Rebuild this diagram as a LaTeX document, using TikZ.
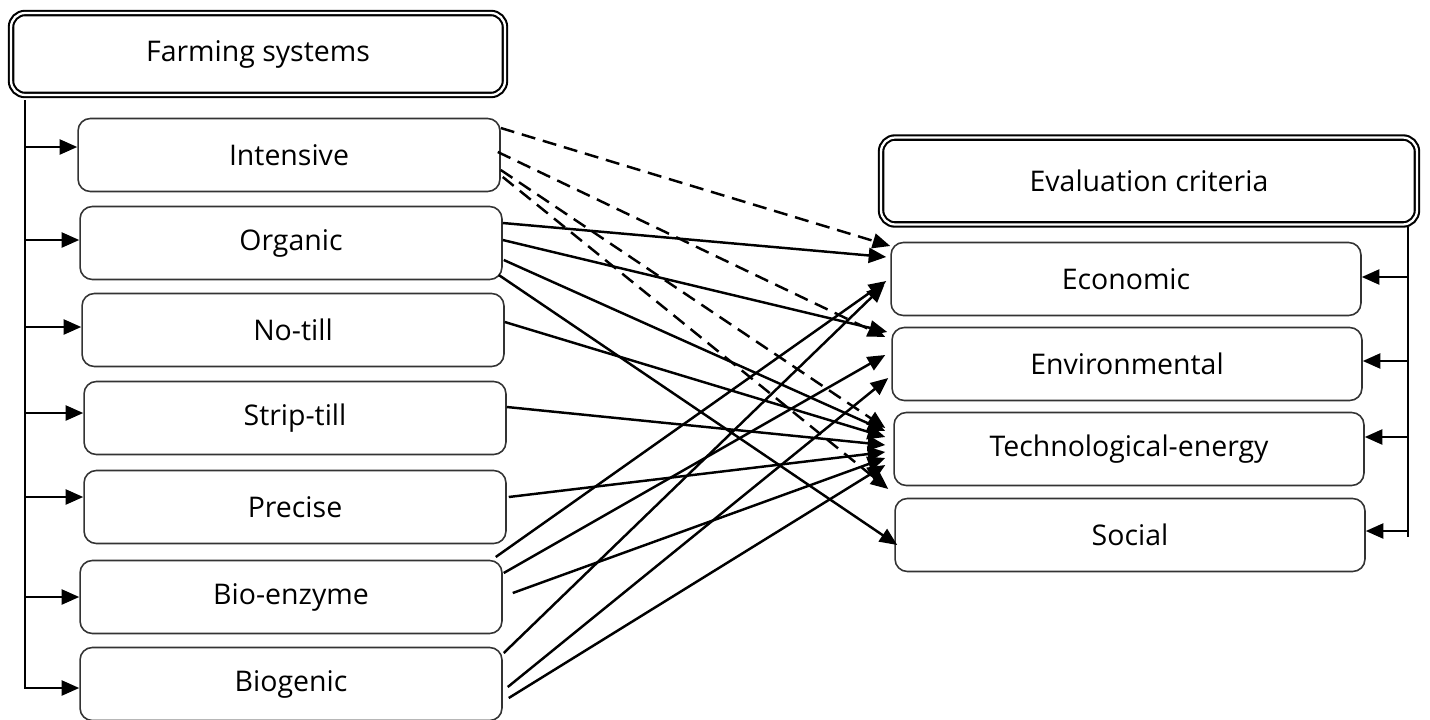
\documentclass[tikz,border=0pt]{standalone}
\usepackage{fontspec}
\setmainfont{Open Sans}
\usetikzlibrary{arrows.meta}
\usetikzlibrary{calc}

\tikzset{
  headbox/.style={draw=black, line width=1.2pt, double, double distance=1.3pt, rounded corners=8pt, font=\fontsize{16.2}{19}\selectfont},
  sysbox/.style={draw=black!80, line width=0.9pt, rounded corners=7pt, minimum width=8.44cm, minimum height=1.46cm, font=\fontsize{16.2}{19}\selectfont},
  critbox/.style={sysbox, minimum width=9.4cm},
  spine/.style={line width=0.8pt},
  feed/.style={line width=1.4pt, -{Triangle[length=10pt,width=8.5pt]}},
  link/.style={line width=1.4pt, -{Triangle[length=10pt,width=8.5pt]}},
  dashlink/.style={link, dash pattern=on 8pt off 4.5pt}
}

\begin{document}
\begin{tikzpicture}[x=0.02cm, y=-0.02cm]
    \useasboundingbox (0,0) rectangle (1430,720);

    % Cabeceras
    \node[headbox, minimum width=9.88cm, minimum height=1.64cm] (farm) at (258,54) {Farming systems};
    \node[headbox, minimum width=10.72cm, minimum height=1.74cm] (eval) at (1149,181) {Evaluation criteria};

    % Sistemas
    \node[sysbox] (int) at (289,155) {Intensive};
    \node[sysbox] (org) at (291,243) {Organic};
    \node[sysbox] (not) at (293,330) {No-till};
    \node[sysbox] (str) at (295,418) {Strip-till};
    \node[sysbox] (pre) at (295,507) {Precise};
    \node[sysbox] (bie) at (291,597) {Bio-enzyme};
    \node[sysbox] (bio) at (291,684) {Biogenic};

    % Criterios
    \node[critbox] (eco) at (1126,279) {Economic};
    \node[critbox] (env) at (1127,364) {Environmental};
    \node[critbox] (tec) at (1129,449) {Technological-energy};
    \node[critbox] (soc) at (1130,535) {Social};

    % Eje izquierdo
    \coordinate (lspine) at (25,100);
    \draw[spine] (lspine) |- ($(bio.west)+(-50,4)$);
    \draw[feed] ($(lspine |- bio.west)+(0,4)$) -- ($(bio.west)+(0,4)$);
    \draw[feed] (lspine |- bie.west) -- (bie.west);
    \draw[feed] ($(lspine |- pre.west)+(0,-10)$) -- ($(pre.west)+(0,-10)$);
    \draw[feed] ($(lspine |- str.west)+(0,-5)$) -- ($(str.west)+(0,-5)$);
    \draw[feed] ($(lspine |- not.west)+(0,-3)$) -- ($(not.west)+(0,-3)$);
    \draw[feed] ($(lspine |- org.west)+(0,-3)$) -- ($(org.west)+(0,-3)$);
    \draw[feed] ($(lspine |- int.west)+(0,-8)$) -- ($(int.west)+(0,-8)$);

    % Eje derecho
    \coordinate (rspine) at (1408,227);
    \draw[spine] (rspine) -- ($(rspine |- soc.east)+(0,2)$);
    \draw[feed] ($(rspine |- eco.east)+(0,-2)$) -- ($(eco.east)+(0,-2)$);
    \draw[feed] ($(rspine |- env.east)+(0,-3)$) -- ($(env.east)+(0,-3)$);
    \draw[feed] ($(rspine |- tec.east)+(0,-12)$) -- ($(tec.east)+(0,-12)$);
    \draw[feed] ($(rspine |- soc.east)+(0,-4)$) -- ($(soc.east)+(0,-4)$);

    % Intensive (discontinuas)
    \draw[dashlink] ($(int.east)+(0,-27)$) -- ($(eco.west)+(0,-33)$);
    \draw[dashlink] ($(int.east)+(-3,-3)$) -- ($(env.west)+(-6,-27)$);
    \draw[dashlink] ($(int.east)+(0,15)$) -- ($(tec.west)+(-8,-21)$);
    \draw[dashlink] ($(int.east)+(2,22)$) -- ($(tec.west)+(-5,40)$);

    % Organic
    \draw[link] ($(org.east)+(0,-20)$) -- ($(eco.west)+(-4,-22)$);
    \draw[link] ($(org.east)+(0,-3)$) -- ($(env.west)+(-4,-32)$);
    \draw[link] ($(org.east)+(1,17)$) -- ($(tec.west)+(-8,-18)$);
    \draw[link] ($(org.east)+(-4,32)$) -- ($(soc.west)+(3,10)$);

    % No-till, Strip-till, Precise
    \draw[link] ($(not.east)+(0,-8)$) -- ($(tec.west)+(-8,-12)$);
    \draw[link] ($(str.east)+(0,-11)$) -- ($(tec.west)+(-8,-4)$);
    \draw[link] ($(pre.east)+(2,-10)$) -- ($(tec.west)+(-8,3)$);

    % Bio-enzyme
    \draw[link] ($(bie.east)+(-7,-40)$) -- ($(eco.west)+(-4,2)$);
    \draw[link] ($(bie.east)+(1,-24)$) -- ($(env.west)+(-6,-9)$);
    \draw[link] ($(bie.east)+(10,-4)$) -- ($(tec.west)+(-8,9)$);

    % Biogenic
    \draw[link] ($(bio.east)+(1,-31)$) -- ($(eco.west)+(-6,6)$);
    \draw[link] ($(bio.east)+(5,3)$) -- ($(env.west)+(-3,14)$);
    \draw[link] ($(bio.east)+(6,14)$) -- ($(tec.west)+(-8,16)$);
\end{tikzpicture}
\end{document}
